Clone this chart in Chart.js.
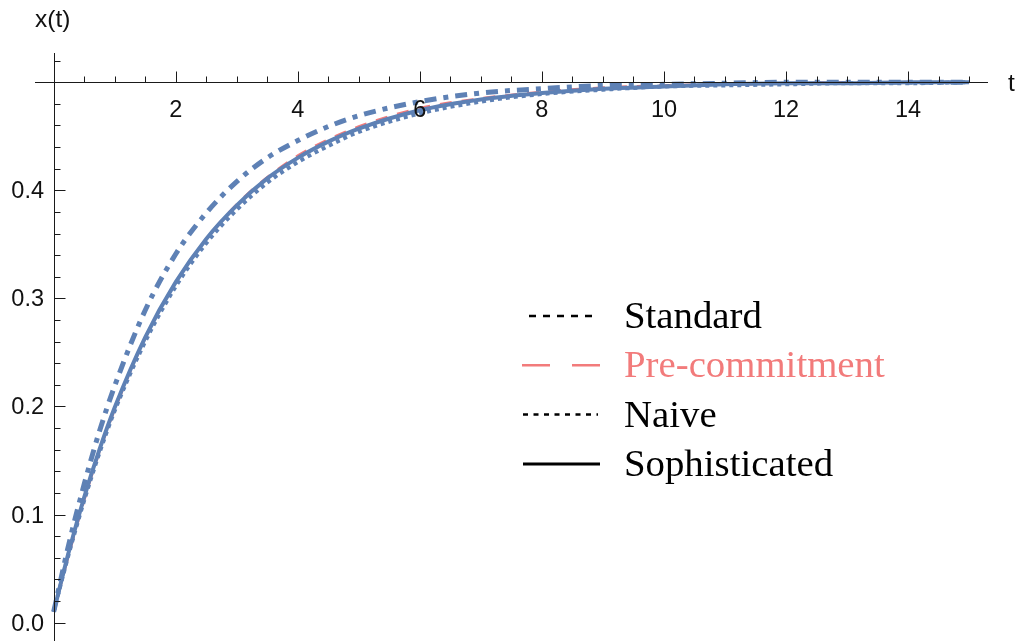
<!DOCTYPE html>
<html>
<head>
<meta charset="utf-8">
<title>x(t)</title>
<script src="https://cdn.jsdelivr.net/npm/chart.js@4.4.1/dist/chart.umd.min.js"></script>
<style>
  html, body { margin: 0; padding: 0; background: #fff; }
  #wrap { width: 1022px; height: 641px; position: relative; }
</style>
</head>
<body>
<div id="wrap"><canvas id="plot" width="1022" height="641"></canvas></div>
<script>
// time points
const times = [0, 0.25, 0.5, 0.75, 1, 1.5, 2, 2.5, 3, 3.5, 4, 4.5, 5, 6, 7, 8, 9, 10, 11, 12, 13, 14, 15];

// x(t) for each strategy
const standard      = [0.010, 0.073, 0.128, 0.177, 0.219, 0.289, 0.341, 0.379, 0.408, 0.430, 0.446, 0.459, 0.469, 0.482, 0.490, 0.494, 0.497, 0.498, 0.499, 0.500, 0.500, 0.500, 0.500];
const preCommitment = [0.010, 0.063, 0.113, 0.158, 0.197, 0.263, 0.315, 0.355, 0.387, 0.412, 0.432, 0.447, 0.459, 0.476, 0.485, 0.491, 0.495, 0.497, 0.498, 0.499, 0.500, 0.500, 0.500];
const naive         = [0.010, 0.064, 0.113, 0.157, 0.196, 0.260, 0.311, 0.351, 0.382, 0.407, 0.426, 0.441, 0.454, 0.471, 0.482, 0.489, 0.493, 0.496, 0.497, 0.498, 0.499, 0.499, 0.500];
const sophisticated = [0.010, 0.066, 0.116, 0.160, 0.199, 0.264, 0.315, 0.355, 0.386, 0.411, 0.430, 0.445, 0.457, 0.474, 0.484, 0.490, 0.494, 0.496, 0.498, 0.499, 0.499, 0.500, 0.500];

// axis ticks
const xTickLabels = [2, 4, 6, 8, 10, 12, 14];
const yTickLabels = [0.0, 0.1, 0.2, 0.3, 0.4];
const xAxisAt = 0.5;   // the t axis crosses at x = 0.5

const BLUE = '#5e81b5';
const PINK = '#f27b7b';

const pts = (ys) => times.map((t, i) => ({ x: t, y: ys[i] }));

// axes drawn Mathematica style (ticks above the t axis, labels below)
const axesPlugin = {
  id: 'axes',
  afterDatasetsDraw(chart) {
    const { ctx, scales: { x, y } } = chart;
    const y0 = Math.round(y.getPixelForValue(xAxisAt)) + 0.5;
    const x0 = Math.round(x.getPixelForValue(0)) + 0.5;
    ctx.save();
    ctx.strokeStyle = '#1a1a1a';
    ctx.lineWidth = 1;
    ctx.beginPath();
    ctx.moveTo(x.left, y0); ctx.lineTo(x.right, y0);
    ctx.moveTo(x0, y.top); ctx.lineTo(x0, y.bottom);
    // t ticks every 0.5, major every 2
    for (let k = 1; k <= 30; k++) {
      const t = k * 0.5;
      const px = Math.round(x.getPixelForValue(t)) + 0.5;
      const len = (k % 4 === 0) ? 11 : 6;
      ctx.moveTo(px, y0); ctx.lineTo(px, y0 - len);
    }
    // x ticks every 0.02, major every 0.1
    for (let k = -1; k <= 26; k++) {
      const v = k * 0.02;
      if (k === 25) continue;
      const py = Math.round(y.getPixelForValue(v)) + 0.5;
      const len = (k % 5 === 0) ? 11 : 6;
      ctx.moveTo(x0, py); ctx.lineTo(x0 + len, py);
    }
    ctx.stroke();

    ctx.fillStyle = '#111';
    ctx.font = '23.5px "Liberation Sans", Arial, sans-serif';
    ctx.textBaseline = 'alphabetic';
    ctx.textAlign = 'center';
    xTickLabels.forEach(t => ctx.fillText(String(t), x.getPixelForValue(t), y0 + 34));
    ctx.textAlign = 'right';
    yTickLabels.forEach(v => ctx.fillText(v.toFixed(1), 44, y.getPixelForValue(v) + 8));
    ctx.textAlign = 'left';
    ctx.font = '24.5px "Liberation Sans", Arial, sans-serif';
    ctx.fillText('x(t)', 35, 27);
    ctx.fillText('t', 1008, 91);
    ctx.restore();
  }
};

// legend box inside the plot
const legendItems = [
  { text: 'Standard',       color: '#000', textColor: '#000', dash: [7, 7],   width: 2.5, from: 529, to: 598 },
  { text: 'Pre-commitment', color: PINK,   textColor: PINK,   dash: [28, 22], width: 2.5, from: 522, to: 600 },
  { text: 'Naive',          color: '#000', textColor: '#000', dash: [5, 5.5], width: 2.5, from: 523, to: 598 },
  { text: 'Sophisticated',  color: '#000', textColor: '#000', dash: [],       width: 3,   from: 523, to: 600 }
];

const legendPlugin = {
  id: 'mmaLegend',
  afterDraw(chart) {
    const ctx = chart.ctx;
    ctx.save();
    ctx.font = '38.8px "Liberation Serif", "Times New Roman", serif';
    ctx.textBaseline = 'alphabetic';
    ctx.textAlign = 'left';
    legendItems.forEach((it, i) => {
      const base = 328 + i * 49.3;
      ctx.strokeStyle = it.color;
      ctx.lineWidth = it.width;
      ctx.setLineDash(it.dash);
      ctx.beginPath();
      ctx.moveTo(it.from, base - 12);
      ctx.lineTo(it.to, base - 12);
      ctx.stroke();
      ctx.setLineDash([]);
      ctx.fillStyle = it.textColor;
      ctx.fillText(it.text, 624, base);
    });
    ctx.restore();
  }
};

new Chart(document.getElementById('plot').getContext('2d'), {
  type: 'line',
  data: {
    datasets: [
      { label: 'Standard', data: pts(standard), borderColor: BLUE, borderWidth: 5, borderDash: [12, 7, 5, 7] },
      { label: 'Sophisticated', data: pts(sophisticated), borderColor: BLUE, borderWidth: 4 },
      { label: 'Naive', data: pts(naive), borderColor: BLUE, borderWidth: 4, borderDash: [4, 4] },
      { label: 'Pre-commitment', data: pts(preCommitment), borderColor: PINK, borderWidth: 2.5, borderDash: [12, 10] }
    ]
  },
  options: {
    responsive: false,
    animation: false,
    events: [],
    layout: { padding: { left: 35, right: 34, top: 53, bottom: 0 } },
    elements: {
      point: { radius: 0 },
      line: { cubicInterpolationMode: 'monotone', fill: false, borderCapStyle: 'butt' }
    },
    scales: {
      x: { type: 'linear', min: -0.306, max: 15.31, display: false },
      y: { type: 'linear', min: -0.017, max: 0.527, display: false }
    },
    plugins: {
      legend: { display: false },
      tooltip: { enabled: false }
    }
  },
  plugins: [axesPlugin, legendPlugin]
});
</script>
</body>
</html>
